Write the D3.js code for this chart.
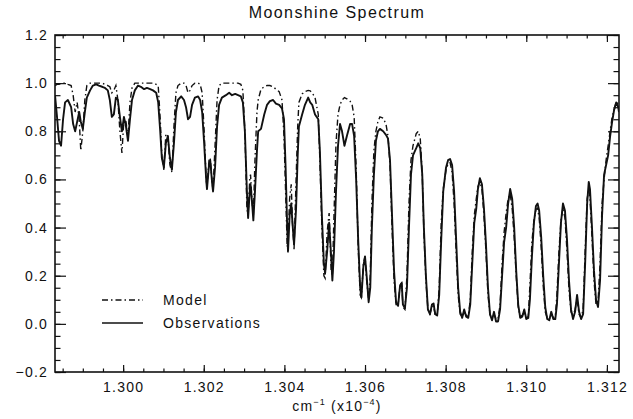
<!DOCTYPE html>
<html>
<head>
<meta charset="utf-8">
<script src="https://cdn.jsdelivr.net/npm/d3@7/dist/d3.min.js"></script>
<style>
  body { margin: 0; background: #fff; }
  text { font-family: "Liberation Sans", Arial, sans-serif; fill: #111; }
</style>
</head>
<body>
<div id="plot"></div>
<script>
// wavenumber in units of 1e4 cm^-1
var wavenumber = [
  1.29831, 1.29836, 1.29841, 1.29846, 1.29851, 1.29856, 1.29863, 1.29871, 1.29876, 1.29881,
  1.29886, 1.29891, 1.29895, 1.29900, 1.29905, 1.29910, 1.29918, 1.29925, 1.29933, 1.29940,
  1.29948, 1.29955, 1.29962, 1.29967, 1.29972, 1.29977, 1.29982, 1.29987, 1.29992, 1.29997,
  1.30002, 1.30007, 1.30012, 1.30017, 1.30022, 1.30029, 1.30037, 1.30044, 1.30052, 1.30059,
  1.30067, 1.30074, 1.30082, 1.30087, 1.30092, 1.30096, 1.30101, 1.30106, 1.30111, 1.30116,
  1.30121, 1.30126, 1.30131, 1.30136, 1.30144, 1.30151, 1.30156, 1.30161, 1.30166, 1.30171,
  1.30178, 1.30186, 1.30191, 1.30196, 1.30201, 1.30206, 1.30208, 1.30213, 1.30216, 1.30221,
  1.30223, 1.30228, 1.30233, 1.30238, 1.30245, 1.30255, 1.30263, 1.30270, 1.30278, 1.30285,
  1.30292, 1.30297, 1.30302, 1.30307, 1.30310, 1.30314, 1.30316, 1.30320, 1.30323, 1.30327,
  1.30332, 1.30335, 1.30342, 1.30350, 1.30357, 1.30364, 1.30372, 1.30379, 1.30387, 1.30394,
  1.30399, 1.30403, 1.30407, 1.30409, 1.30413, 1.30417, 1.30420, 1.30424, 1.30429, 1.30433,
  1.30436, 1.30444, 1.30451, 1.30459, 1.30464, 1.30469, 1.30476, 1.30484, 1.30488, 1.30493,
  1.30498, 1.30501, 1.30506, 1.30511, 1.30516, 1.30519, 1.30523, 1.30528, 1.30533, 1.30538,
  1.30543, 1.30549, 1.30555, 1.30563, 1.30568, 1.30573, 1.30578, 1.30583, 1.30588, 1.30591,
  1.30596, 1.30600, 1.30604, 1.30609, 1.30613, 1.30617, 1.30622, 1.30627, 1.30632, 1.30637,
  1.30645, 1.30652, 1.30657, 1.30662, 1.30667, 1.30672, 1.30677, 1.30682, 1.30687, 1.30691,
  1.30694, 1.30699, 1.30704, 1.30709, 1.30714, 1.30719, 1.30727, 1.30732, 1.30737, 1.30742,
  1.30746, 1.30751, 1.30756, 1.30761, 1.30766, 1.30770, 1.30774, 1.30779, 1.30784, 1.30789,
  1.30794, 1.30801, 1.30806, 1.30811, 1.30816, 1.30821, 1.30826, 1.30831, 1.30836, 1.30841,
  1.30846, 1.30851, 1.30856, 1.30861, 1.30866, 1.30871, 1.30876, 1.30880, 1.30885, 1.30890,
  1.30895, 1.30900, 1.30905, 1.30910, 1.30915, 1.30920, 1.30925, 1.30930, 1.30935, 1.30940,
  1.30945, 1.30950, 1.30955, 1.30960, 1.30965, 1.30970, 1.30975, 1.30980, 1.30985, 1.30990,
  1.30995, 1.31000, 1.31005, 1.31009, 1.31014, 1.31019, 1.31024, 1.31028, 1.31032, 1.31037,
  1.31042, 1.31047, 1.31052, 1.31057, 1.31062, 1.31067, 1.31072, 1.31076, 1.31081, 1.31086,
  1.31091, 1.31096, 1.31101, 1.31106, 1.31111, 1.31116, 1.31121, 1.31126, 1.31131, 1.31136,
  1.31141, 1.31146, 1.31151, 1.31155, 1.31158, 1.31163, 1.31168, 1.31173, 1.31178, 1.31183,
  1.31188, 1.31193, 1.31198, 1.31203, 1.31208, 1.31213, 1.31218, 1.31223, 1.31228, 1.31230
];

var observed = [
  0.95, 0.86, 0.76, 0.74, 0.85, 0.92, 0.93, 0.90, 0.83, 0.80,
  0.84, 0.88, 0.84, 0.81, 0.88, 0.94, 0.97, 0.99, 0.995, 0.99,
  0.985, 0.98, 0.97, 0.93, 0.86, 0.87, 0.94, 0.93, 0.86, 0.80,
  0.86, 0.82, 0.76, 0.85, 0.93, 0.97, 0.99, 0.985, 0.975, 0.98,
  0.975, 0.97, 0.96, 0.92, 0.80, 0.69, 0.65, 0.75, 0.78, 0.69,
  0.64, 0.75, 0.88, 0.93, 0.945, 0.93, 0.90, 0.85, 0.86, 0.91,
  0.94, 0.945, 0.93, 0.88, 0.75, 0.60, 0.56, 0.66, 0.68, 0.58,
  0.55, 0.65, 0.82, 0.91, 0.94, 0.95, 0.96, 0.95, 0.955, 0.95,
  0.945, 0.92, 0.80, 0.55, 0.44, 0.55, 0.58, 0.50, 0.43, 0.55,
  0.72, 0.80, 0.81, 0.87, 0.91, 0.925, 0.93, 0.915, 0.91, 0.895,
  0.85, 0.65, 0.40, 0.30, 0.45, 0.50, 0.42, 0.33, 0.48, 0.70,
  0.82, 0.87, 0.91, 0.94, 0.92, 0.91, 0.87, 0.85, 0.72, 0.45,
  0.25, 0.21, 0.30, 0.42, 0.28, 0.18, 0.30, 0.55, 0.74, 0.83,
  0.80, 0.74, 0.78, 0.83, 0.83, 0.78, 0.60, 0.35, 0.15, 0.11,
  0.24, 0.28, 0.20, 0.09, 0.15, 0.40, 0.62, 0.76, 0.80, 0.81,
  0.80, 0.785, 0.77, 0.68, 0.45, 0.22, 0.09, 0.075, 0.16, 0.17,
  0.08, 0.065, 0.15, 0.40, 0.62, 0.70, 0.73, 0.75, 0.73, 0.62,
  0.40, 0.20, 0.06, 0.04, 0.08, 0.085, 0.04, 0.035, 0.12, 0.35,
  0.55, 0.65, 0.68, 0.685, 0.66, 0.55, 0.35, 0.15, 0.05, 0.025,
  0.06, 0.03, 0.025, 0.08, 0.25, 0.42, 0.48, 0.56, 0.605, 0.58,
  0.48, 0.33, 0.15, 0.04, 0.015, 0.05, 0.01, 0.01, 0.06, 0.20,
  0.34, 0.40, 0.50, 0.56, 0.52, 0.40, 0.22, 0.08, 0.025, 0.03,
  0.06, 0.02, 0.025, 0.10, 0.28, 0.42, 0.49, 0.50, 0.47, 0.36,
  0.20, 0.07, 0.02, 0.015, 0.05, 0.02, 0.02, 0.08, 0.25, 0.42,
  0.50, 0.47, 0.35, 0.18, 0.06, 0.02, 0.05, 0.12, 0.05, 0.02,
  0.04, 0.25, 0.50, 0.59, 0.56, 0.40, 0.22, 0.10, 0.07, 0.18,
  0.45, 0.62, 0.66, 0.70, 0.78, 0.84, 0.89, 0.92, 0.90, 0.88
];

var model = [
  0.99, 0.995, 0.995, 1.0, 1.0, 1.0, 0.995, 0.99, 0.95, 0.88,
  0.92, 0.85, 0.72, 0.80, 0.93, 0.99, 1.0, 1.0, 1.0, 1.0,
  1.0, 0.995, 0.99, 0.985, 0.96, 0.97, 0.99, 0.93, 0.80, 0.71,
  0.85, 0.84, 0.78, 0.92, 0.98, 1.0, 1.0, 1.0, 1.0, 1.0,
  1.0, 1.0, 0.995, 0.99, 0.85, 0.70, 0.64, 0.79, 0.78, 0.66,
  0.63, 0.82, 0.96, 0.99, 1.0, 1.0, 0.99, 0.96, 0.97, 0.99,
  1.0, 1.0, 0.995, 0.96, 0.80, 0.60, 0.57, 0.68, 0.69, 0.58,
  0.56, 0.74, 0.93, 0.99, 1.0, 1.0, 1.0, 1.0, 1.0, 1.0,
  0.995, 0.97, 0.80, 0.48, 0.45, 0.60, 0.62, 0.50, 0.45, 0.68,
  0.88, 0.93, 0.975, 0.985, 0.99, 0.99, 0.985, 0.975, 0.965, 0.93,
  0.78, 0.55, 0.32, 0.34, 0.52, 0.58, 0.42, 0.31, 0.60, 0.82,
  0.92, 0.955, 0.965, 0.97, 0.968, 0.96, 0.94, 0.87, 0.68, 0.40,
  0.20, 0.19, 0.38, 0.46, 0.22, 0.20, 0.45, 0.75, 0.87, 0.91,
  0.93, 0.94, 0.935, 0.925, 0.91, 0.86, 0.65, 0.32, 0.12, 0.11,
  0.25, 0.28, 0.18, 0.10, 0.20, 0.50, 0.72, 0.80, 0.84, 0.86,
  0.855, 0.83, 0.78, 0.66, 0.40, 0.18, 0.08, 0.08, 0.16, 0.17,
  0.07, 0.06, 0.20, 0.50, 0.68, 0.74, 0.79, 0.80, 0.77, 0.62,
  0.38, 0.18, 0.06, 0.04, 0.07, 0.075, 0.04, 0.035, 0.15, 0.42,
  0.56, 0.64, 0.665, 0.67, 0.63, 0.50, 0.30, 0.12, 0.04, 0.03,
  0.05, 0.035, 0.03, 0.10, 0.30, 0.45, 0.52, 0.57, 0.59, 0.56,
  0.45, 0.30, 0.12, 0.04, 0.02, 0.04, 0.02, 0.02, 0.08, 0.25,
  0.38, 0.46, 0.52, 0.54, 0.48, 0.36, 0.20, 0.07, 0.03, 0.035,
  0.05, 0.025, 0.03, 0.16, 0.34, 0.43, 0.475, 0.48, 0.44, 0.32,
  0.16, 0.05, 0.025, 0.02, 0.04, 0.025, 0.03, 0.12, 0.30, 0.43,
  0.48, 0.44, 0.30, 0.14, 0.05, 0.03, 0.06, 0.10, 0.04, 0.025,
  0.06, 0.30, 0.52, 0.56, 0.52, 0.36, 0.18, 0.08, 0.09, 0.25,
  0.50, 0.60, 0.68, 0.74, 0.80, 0.86, 0.89, 0.92, 0.915, 0.90
];

var xTicks = [1.300, 1.302, 1.304, 1.306, 1.308, 1.310, 1.312];
var yTicks = [-0.2, 0.0, 0.2, 0.4, 0.6, 0.8, 1.0, 1.2];
var legendNames = ["Model", "Observations"];

var W = 633, H = 419;
var m = {l: 55, t: 35, r: 14, b: 47};
var w = W - m.l - m.r, h = H - m.t - m.b;

var x = d3.scaleLinear().domain([1.29831, 1.31230]).range([0, w]);
var y = d3.scaleLinear().domain([-0.2, 1.2]).range([h, 0]);

var svg = d3.select("#plot").append("svg")
  .attr("width", W).attr("height", H);

svg.append("text")
  .attr("x", m.l + w / 2).attr("y", 18)
  .attr("text-anchor", "middle")
  .style("font-size", "16px").style("letter-spacing", "1.4px")
  .text("Moonshine Spectrum");

var g = svg.append("g").attr("transform", "translate(" + m.l + "," + m.t + ")");

var xMinor = d3.range(12985, 13125, 5).map(function(d) { return d / 10000; });
var yMinor = d3.range(-20, 121, 5).map(function(d) { return d / 100; });

function axisStyle(sel) {
  sel.select(".domain").remove();
  sel.selectAll("line").attr("stroke", "#111").attr("stroke-width", 1.2);
  sel.selectAll("text").style("font-size", "14px").style("letter-spacing", "1.2px").attr("fill", "#111");
}

// bottom + top
g.append("g").attr("transform", "translate(0," + h + ")")
  .call(d3.axisBottom(x).tickValues(xMinor).tickSize(-3.5).tickFormat(""))
  .call(axisStyle);
g.append("g").attr("transform", "translate(0," + h + ")")
  .call(d3.axisBottom(x).tickValues(xTicks).tickSize(-7).tickPadding(10).tickFormat(d3.format(".3f")))
  .call(axisStyle);
g.append("g")
  .call(d3.axisTop(x).tickValues(xMinor).tickSize(-3.5).tickFormat(""))
  .call(axisStyle);
g.append("g")
  .call(d3.axisTop(x).tickValues(xTicks).tickSize(-7).tickFormat(""))
  .call(axisStyle);

// left + right
g.append("g")
  .call(d3.axisLeft(y).tickValues(yMinor).tickSize(-5.5).tickFormat(""))
  .call(axisStyle);
g.append("g")
  .call(d3.axisLeft(y).tickValues(yTicks).tickSize(-11).tickPadding(7).tickFormat(d3.format(".1f")))
  .call(axisStyle);
g.append("g").attr("transform", "translate(" + w + ",0)")
  .call(d3.axisRight(y).tickValues(yMinor).tickSize(-5.5).tickFormat(""))
  .call(axisStyle);
g.append("g").attr("transform", "translate(" + w + ",0)")
  .call(d3.axisRight(y).tickValues(yTicks).tickSize(-11).tickFormat(""))
  .call(axisStyle);

g.append("rect")
  .attr("width", w).attr("height", h)
  .attr("fill", "none").attr("stroke", "#111").attr("stroke-width", 1.6);

g.append("clipPath").attr("id", "clip")
  .append("rect").attr("width", w).attr("height", h);

var line = function(vals) {
  return d3.line()
    .x(function(d, i) { return x(wavenumber[i]); })
    .y(function(d) { return y(d); })(vals);
};

g.append("path")
  .attr("clip-path", "url(#clip)")
  .attr("d", line(model))
  .attr("fill", "none").attr("stroke", "#111")
  .attr("stroke-width", 1.4).attr("stroke-dasharray", "6,3,1.5,3");

g.append("path")
  .attr("clip-path", "url(#clip)")
  .attr("d", line(observed))
  .attr("fill", "none").attr("stroke", "#111")
  .attr("stroke-width", 1.9).attr("stroke-linejoin", "round");

// legend
var leg = svg.append("g");
legendNames.forEach(function(name, i) {
  var ly = 300 + i * 23;
  leg.append("line")
    .attr("x1", 102).attr("x2", 143).attr("y1", ly).attr("y2", ly)
    .attr("stroke", "#111")
    .attr("stroke-width", i === 0 ? 1.4 : 1.7)
    .attr("stroke-dasharray", i === 0 ? "6,3,1.5,3" : null);
  leg.append("text")
    .attr("x", 163).attr("y", ly + 5)
    .style("font-size", "14px").style("letter-spacing", "1.3px")
    .text(name);
});

// x axis title with superscripts
var xt = svg.append("text")
  .attr("x", m.l + w / 2).attr("y", 411)
  .attr("text-anchor", "middle")
  .style("font-size", "14px").style("letter-spacing", "1.2px");
xt.append("tspan").text("cm");
xt.append("tspan").attr("dy", -6).style("font-size", "9px").text("−1");
xt.append("tspan").attr("dy", 6).text(" (x10");
xt.append("tspan").attr("dy", -6).style("font-size", "9px").text("−4");
xt.append("tspan").attr("dy", 6).text(")");
</script>
</body>
</html>
